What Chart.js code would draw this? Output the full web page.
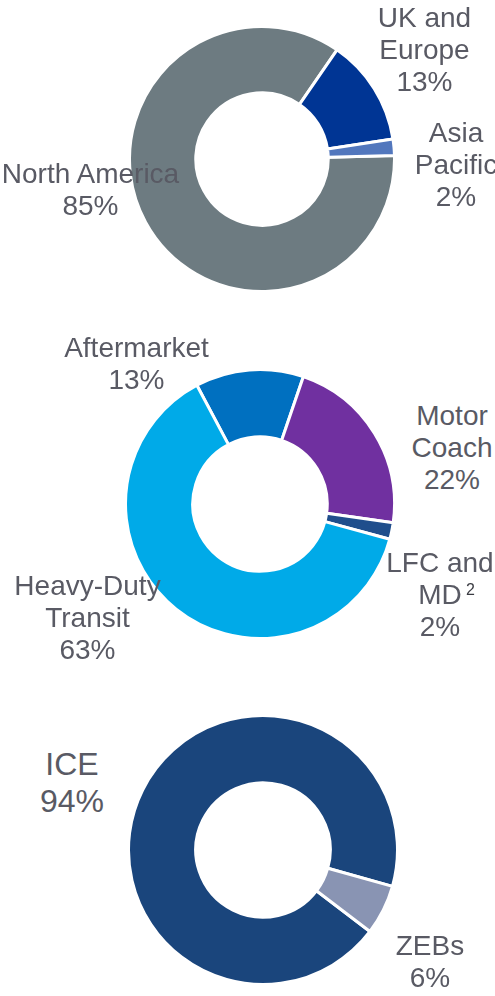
<!DOCTYPE html>
<html>
<head>
<meta charset="utf-8">
<script src="https://cdn.jsdelivr.net/npm/chart.js@4"></script>
<style>
html,body{margin:0;padding:0;background:#fff;width:495px;height:996px;overflow:hidden;position:relative;}
canvas{position:absolute;}
.lbl{position:absolute;font-family:"Liberation Sans",Arial,sans-serif;color:#595a64;font-size:28px;line-height:32px;text-align:center;white-space:nowrap;transform:translateX(-50%);z-index:5;}
.big{font-size:32px;line-height:37px;}
.sup{position:absolute;font-family:"Liberation Sans",Arial,sans-serif;color:#3a3b42;font-size:16px;line-height:16px;z-index:5;}
</style>
</head>
<body>
<canvas id="c1" width="268" height="268" style="left:128px;top:25px;width:268px;height:268px"></canvas>
<canvas id="c2" width="272" height="272" style="left:124px;top:368px;width:272px;height:272px"></canvas>
<canvas id="c3" width="272" height="272" style="left:127px;top:714px;width:272px;height:272px"></canvas>
<script>
// ---- Data ----
const regionLabels = ["North America", "UK and Europe", "Asia Pacific"];
const regionValues = [85, 13, 2];

const segmentLabels = ["Aftermarket", "Motor Coach", "LFC and MD", "Heavy-Duty Transit"];
const segmentValues = [13, 22, 2, 63];

const powertrainLabels = ["ICE", "ZEBs"];
const powertrainValues = [94, 6];

// ---- Styles ----
const regionColors = ["#6d7b81", "#003594", "#5277bd"];
const segmentColors = ["#0070c0", "#7030a0", "#1f4e8c", "#00aae8"];
const powertrainColors = ["#1a457c", "#8994b3"];

function donut(id, labels, values, colors, rotation) {
  new Chart(document.getElementById(id), {
    type: "doughnut",
    data: {
      labels: labels,
      datasets: [{
        data: values,
        backgroundColor: colors,
        borderColor: "#ffffff",
        borderWidth: 3,
        hoverOffset: 0,
        offset: 0
      }]
    },
    options: {
      responsive: false,
      animation: false,
      rotation: rotation,
      cutout: "50%",
      layout: { padding: 0 },
      events: [],
      plugins: { legend: { display: false }, tooltip: { enabled: false } }
    }
  });
}

donut("c1", regionLabels, regionValues, regionColors, 88.5);
donut("c2", segmentLabels, segmentValues, segmentColors, -28);
donut("c3", powertrainLabels, powertrainValues, powertrainColors, 127.3);

// ---- Text labels ----
function pct(v) { return v + "%"; }
const labelDefs = [
  { lines: ["UK and", "Europe", pct(regionValues[1])], x: 424.5, top: 1.5 },
  { lines: ["Asia", "Pacific", pct(regionValues[2])], x: 456, top: 116.5 },
  { lines: ["North America", pct(regionValues[0])], x: 90.5, top: 157.5 },
  { lines: ["Aftermarket", pct(segmentValues[0])], x: 136.5, top: 331.5 },
  { lines: ["Motor", "Coach", pct(segmentValues[1])], x: 452, top: 399.5 },
  { lines: ["LFC and", "MD", pct(segmentValues[2])], x: 440, top: 546.5 },
  { lines: ["Heavy-Duty", "Transit", pct(segmentValues[3])], x: 87.5, top: 569.5 },
  { lines: ["ICE", pct(powertrainValues[0])], x: 72, top: 745.5, big: true },
  { lines: ["ZEBs", pct(powertrainValues[1])], x: 430, top: 929.5 }
];
labelDefs.forEach(d => {
  const el = document.createElement("div");
  el.className = "lbl" + (d.big ? " big" : "");
  el.style.left = d.x + "px";
  el.style.top = d.top + "px";
  el.innerHTML = d.lines.join("<br>");
  document.body.appendChild(el);
});
const sup = document.createElement("div");
sup.className = "sup";
sup.style.left = "466px";
sup.style.top = "582px";
sup.textContent = "2";
document.body.appendChild(sup);
</script>
</body>
</html>
